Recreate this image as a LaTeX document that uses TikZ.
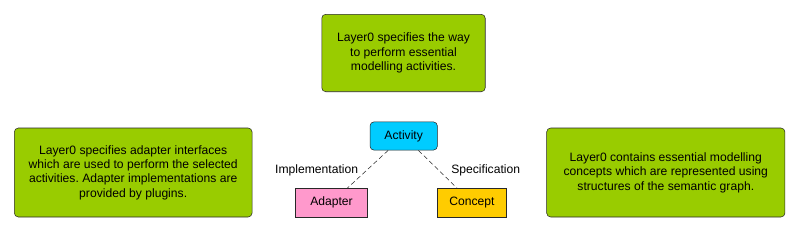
\documentclass[tikz,border=0pt]{standalone}
\usepackage{fontspec}
\setmainfont{Liberation Sans}
\usepackage{xcolor}
\definecolor{notegreen}{RGB}{153,204,0}
\definecolor{actblue}{RGB}{0,204,255}
\definecolor{adpink}{RGB}{255,153,204}
\definecolor{conyellow}{RGB}{255,204,0}
\definecolor{edgegray}{RGB}{40,40,40}
\usetikzlibrary{positioning}
\frenchspacing

\begin{document}
\begin{tikzpicture}[x=0.75pt,y=-0.75pt,
  font=\fontsize{9.1pt}{10.8pt}\selectfont,
  notebox/.style={draw=edgegray,fill=notegreen,rounded corners=3pt,align=center,inner sep=0pt},
  termbox/.style={draw=edgegray,inner sep=0pt,minimum width=52pt,minimum height=21.5pt}]
  \useasboundingbox (0,0) rectangle (800,232);
  \node[notebox,minimum width=122.6pt,minimum height=58.1pt] (way) at (403.5,53) {Layer0 specifies the way\\to perform essential\\modelling activities.};
  \node[notebox,minimum width=178.3pt,minimum height=66.75pt] (iface) at (133.2,172.5) {Layer0 specifies adapter interfaces\\which are used to perform the selected\\activities. Adapter implementations are\\provided by plugins.};
  \node[notebox,minimum width=178.7pt,minimum height=66.75pt] (concepts) at (665.8,172.5) {Layer0 contains essential modelling\\concepts which are represented using\\structures of the semantic graph.};
  \node[termbox,fill=actblue,rounded corners=3pt,minimum width=50.5pt,minimum height=21.2pt] (act) at (403.7,136) {Activity};
  \node[termbox,fill=adpink,minimum width=53.7pt] (adapter) at (331.5,202.8) {Adapter};
  \node[termbox,fill=conyellow] (concept) at (472,202.8) {Concept};
  \draw[edgegray,dash pattern=on 3.5pt off 2.2pt] (act)--(adapter);
  \draw[edgegray,dash pattern=on 3.5pt off 2.2pt] (act)--(concept);
  \node (impl) at (316.7,170) {Implementation};
  \node (spec) at (485.7,170) {Specification};
\end{tikzpicture}
\end{document}
